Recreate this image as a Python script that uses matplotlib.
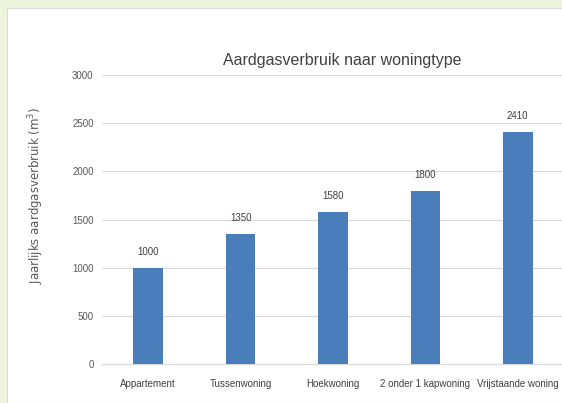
import matplotlib.pyplot as plt
import matplotlib.patches as mpatches

# Data
categories = ['Appartement', 'Tussenwoning', 'Hoekwoning', '2 onder 1 kapwoning', 'Vrijstaande woning']
values = [1000, 1350, 1580, 1800, 2410]
yticks = [0, 500, 1000, 1500, 2000, 2500, 3000]

plt.rcParams['font.family'] = ['Liberation Sans', 'DejaVu Sans']

fig = plt.figure(figsize=(5.62, 4.03), dpi=100)
fig.patch.set_facecolor('#eef3dd')

# white panel
fig.patches.append(mpatches.Rectangle((7 / 562, 0), 1, 1 - 8 / 403, transform=fig.transFigure,
                                      facecolor='white', edgecolor='#dcdcdc', lw=0.8, zorder=-10))

ax = fig.add_axes([102 / 562, 1 - 364 / 403, 462 / 562, 289 / 403])
ax.set_facecolor('none')

x = range(len(categories))
ax.bar(x, values, width=0.32, color='#4a7ebb', zorder=3)

for i, v in enumerate(values):
    ax.text(i, v + 110, str(v), ha='center', va='bottom', fontsize=7, color='#404040')

ax.set_ylim(0, 3000)
ax.set_xlim(-0.5, 4.5)
ax.set_yticks(yticks)
ax.set_xticks(list(x))
ax.set_xticklabels(categories, fontsize=7, color='#404040')
ax.tick_params(axis='y', labelsize=7, labelcolor='#595959', length=0, pad=6)
ax.tick_params(axis='x', length=0, pad=11)
ax.grid(axis='y', color='#d9d9d9', lw=0.8, zorder=0)
for s in ['top', 'right', 'left']:
    ax.spines[s].set_visible(False)
ax.spines['bottom'].set_color('#d9d9d9')

fig.text(36 / 562, 1 - 195 / 403, 'Jaarlijks aardgasverbruik (m$^3$)', fontsize=8.5,
         color='#595959', rotation=90, ha='center', va='center', family='DejaVu Sans')
fig.text(342 / 562, 1 - 60 / 403, 'Aardgasverbruik naar woningtype', fontsize=11.5,
         color='#404040', ha='center', va='center')

fig.savefig('out.png', dpi=100)
